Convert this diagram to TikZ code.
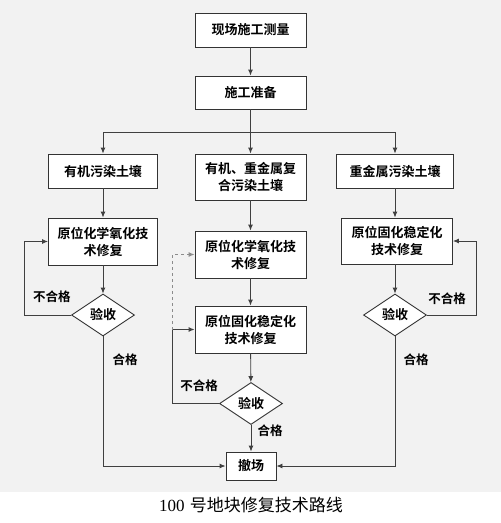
\documentclass[tikz,border=0pt]{standalone}
\usepackage{fontspec}
\newfontfamily\hei{Noto Sans CJK SC}[BoldFont={Noto Sans CJK SC Bold}]
\newfontfamily\capserif{Liberation Serif}
\usetikzlibrary{shapes.geometric,arrows.meta}

\begin{document}
\begin{tikzpicture}
	[x=1pt,y=-1pt,
	 procbox/.style={draw=black!80,fill=white,line width=0.9pt,align=center,inner sep=0pt,
	   font=\hei\bfseries\fontsize{13}{17}\selectfont},
	 checknode/.style={diamond,draw=black!80,fill=white,line width=0.9pt,inner sep=0pt,
	   minimum width=63pt,minimum height=42pt,font=\hei\bfseries\fontsize{13}{17}\selectfont},
	 lab/.style={inner sep=0pt,font=\hei\bfseries\fontsize{12.5}{15}\selectfont},
	 flowline/.style={draw=black!75,line width=0.9pt},
	 flowarrow/.style={flowline,-{Latex[length=6pt,width=5pt]}},
	 dasharrow/.style={draw=black!45,line width=0.9pt,dashed,-{Latex[length=6pt,width=5pt]}}];
\useasboundingbox (0,0) rectangle (501,523);
\fill[black!5] (0,0) rectangle (501,492);

% nodes
\node[procbox,minimum width=111pt,minimum height=34pt] (survey) at (250.5,30) {现场施工测量};
\node[procbox,minimum width=111pt,minimum height=33pt] (prep) at (250.5,92.5) {施工准备};
\node[procbox,minimum width=109pt,minimum height=34pt] (org) at (103,171) {有机污染土壤};
\node[procbox,minimum width=111pt,minimum height=46pt] (mix) at (250.5,177) {有机、重金属复\\合污染土壤};
\node[procbox,minimum width=117pt,minimum height=34pt] (metal) at (395,171) {重金属污染土壤};
\node[procbox,minimum width=109pt,minimum height=47pt] (orgox) at (103,241.5) {原位化学氧化技\\术修复};
\node[procbox,minimum width=111pt,minimum height=47pt] (mixox) at (250.5,254.5) {原位化学氧化技\\术修复};
\node[procbox,minimum width=111pt,minimum height=47pt] (mixsol) at (250.5,329.5) {原位固化稳定化\\技术修复};
\node[procbox,minimum width=111pt,minimum height=46pt] (metalsol) at (397,241) {原位固化稳定化\\技术修复};
\node[checknode] (chk1) at (103,315) {验收};
\node[checknode] (chk2) at (251,403.5) {验收};
\node[checknode] (chk3) at (395,315) {验收};
\node[procbox,minimum width=50pt,minimum height=28pt] (exit) at (251,466) {撤场};

\coordinate (split) at (250.5,132);
\coordinate (splitl) at (103,132);
\coordinate (splitr) at (395,132);
\coordinate (loopl) at (24,0);
\coordinate (loopm) at (172,0);
\coordinate (loopr) at (476,0);

% labels
\node[lab] (fail1) at (52,297) {不合格};
\node[lab] (fail2) at (199,386) {不合格};
\node[lab] (fail3) at (447,299) {不合格};
\node[lab] (pass1) at (125,360) {合格};
\node[lab] (pass2) at (270,431) {合格};
\node[lab] (pass3) at (416,360) {合格};

% connectors
\draw[flowarrow] (survey) -- (prep);
\draw[flowline] (prep) -- (split);
\draw[flowline] (splitl) -- (splitr);
\draw[flowarrow] (split) -- (mix);
\draw[flowarrow] (splitl) -- (org);
\draw[flowarrow] (splitr) -- (metal);
\draw[flowarrow] (org) -- (orgox);
\draw[flowarrow] (mix) -- (mixox);
\draw[flowarrow] (metal.south) -- (metal.south |- metalsol.north);
\draw[flowarrow] (orgox) -- (chk1);
\draw[flowarrow] (mixox) -- (mixsol);
\draw[flowarrow] (mixsol) -- (chk2);
\draw[flowarrow] (metalsol.south -| chk3) -- (chk3);
\draw[flowarrow] (chk1.west) -- (chk1.west -| loopl) |- (orgox.west);
\draw[flowarrow] (chk3.east) -- (chk3.east -| loopr) |- (metalsol.east);
\draw[flowarrow] (chk2.west) -- (chk2.west -| loopm) |- (mixsol.west);
\draw[dasharrow] (mixsol.west -| loopm) |- (mixox.west);
\draw[flowarrow] (chk2) -- (exit);
\draw[flowarrow] (chk1.south) |- (exit.west);
\draw[flowarrow] (chk3.south) |- (exit.east);

% caption
\node[inner sep=0pt,font=\fontsize{17}{20}\selectfont] (title) at (251,505) {{\capserif 100} {\hei 号地块修复技术路线}};
\end{tikzpicture}
\end{document}
